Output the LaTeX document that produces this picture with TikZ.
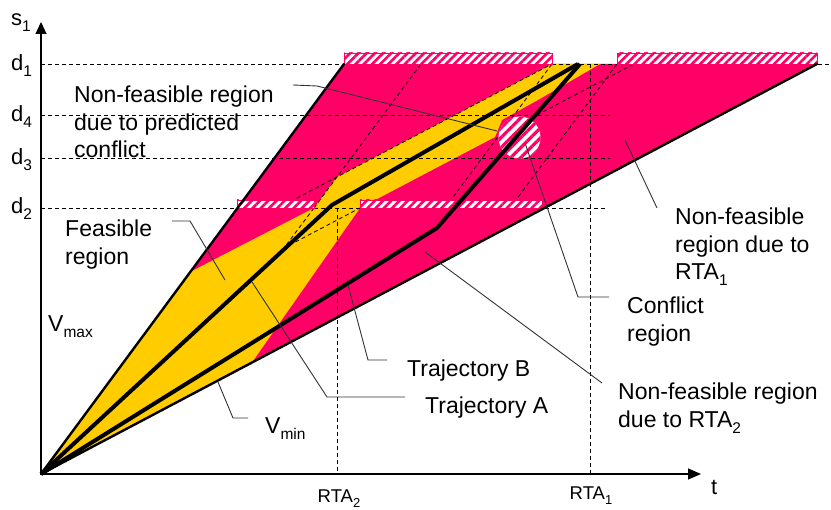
\documentclass[tikz,border=0pt]{standalone}
\usepackage{fontspec}
\setmainfont{Liberation Sans}
\usetikzlibrary{arrows.meta,patterns.meta}
\definecolor{pk}{RGB}{255,0,102}
\definecolor{yl}{RGB}{255,204,0}
\newcommand\lsub[1]{\raisebox{-6pt}{\fontsize{15.5}{15.5}\selectfont #1}}
\newcommand\ssub[1]{\raisebox{-5pt}{\fontsize{13}{13}\selectfont #1}}
\begin{document}
\begin{tikzpicture}[x=1pt,y=-1pt,
  txt/.style={font=\fontsize{23}{27.5}\selectfont, inner sep=0pt, align=left, anchor=north west},
  axl/.style={font=\fontsize{22}{22}\selectfont, inner sep=0pt, anchor=base west},
  rtal/.style={font=\fontsize{18.5}{18.5}\selectfont, inner sep=0pt, anchor=base},
  leader/.style={draw=black!80, line width=0.9pt},
  dsh/.style={draw=black, line width=0.8pt, dash pattern=on 4pt off 3pt},
  bound/.style={draw=black, line width=2.4pt, line cap=round},
  traj/.style={draw=black, line width=4pt, line join=round},
  hatchw/.style={fill=white},
  hatchp/.style={pattern={Lines[angle=45,distance=5.8pt,line width=2.6pt]}, pattern color=pk},
  hatchc/.style={pattern={Lines[angle=45,distance=7pt,line width=3.2pt]}, pattern color=pk},
]
\useasboundingbox (0,0) rectangle (831,510);
% key points
\coordinate (O) at (41,474);
\coordinate (A) at (344,64);
\coordinate (B) at (817,64);
\coordinate (P1) at (314,208);
\coordinate (P2) at (360,208);
\coordinate (W1) at (552,64);
\coordinate (W2) at (617,64);
\coordinate (C) at (519.5,137.5);
% regions
\fill[pk] (O) -- (A) -- (B) -- cycle;
\fill[yl] (O) -- (190,272) -- (P1) -- (337,177) -- (W1) -- (600,64) -- (538,100)
  -- (502,120) -- (495,137) -- (P2) -- (253,361) -- cycle;
% dashed grid
\draw[dsh] (41,64) -- (830,64);
\draw[dsh] (41,115) -- (610,115);
\draw[dsh] (41,158) -- (610,158);
\draw[dsh] (41,208) -- (607,208);
\draw[dsh] (337,208) -- (337,474);
\draw[dsh] (590,64) -- (590,474);
% construction lines
\draw[dsh] (P1) -- (421,64);
\draw[dsh] (P1) -- (284,248) -- (P2);
\draw[dsh] (278,208) -- (W1);
\draw[dsh] (445,208) -- (W1);
\draw[dsh] (510,208) -- (W2);
\draw[dsh] (537,115) -- (634,64);
% conflict region
\fill[hatchw] (C) circle (21);
\fill[hatchc] (C) circle (21);
% hatched bars
\foreach \r in {{(344,53) rectangle (552,64)},{(617,53) rectangle (817,64)},
                {(237,200) rectangle (314,208)},{(360,200) rectangle (542,208)}}{
  \fill[hatchw] \r;
  \fill[hatchp] \r;
  \draw[pk, line width=0.8pt] \r;
}
% boundary lines
\draw[bound] (O) -- (A);
\draw[bound] (O) -- (B);
% trajectories
\draw[traj] (O) -- (332,205) -- (578,64);
\draw[traj] (O) -- (437,228) -- (580,64);
% axes
\draw[line width=1.2pt, -{Triangle[length=12pt,width=11pt]}] (O) -- (41,22);
\draw[line width=1.2pt, -{Triangle[length=13pt,width=11pt]}] (O) -- (701,474);
% axis labels
\node[axl] (s1) at (11,26) {s\lsub{1}};
\node[axl] (dd1) at (11,71) {d\lsub{1}};
\node[axl] (dd4) at (11,122) {d\lsub{4}};
\node[axl] (dd3) at (11,165) {d\lsub{3}};
\node[axl] (dd2) at (11,214) {d\lsub{2}};
\node[axl] (tt) at (711,495) {t};
\node[rtal] (rta2) at (339,503) {RTA\ssub{2}};
\node[rtal] (rta1) at (591,500) {RTA\ssub{1}};
% labels
\node[txt] (npc) at (74,86) {Non-feasible region\\due to predicted\\conflict};
\node[txt] (fea) at (65,220) {Feasible\\region};
\node[txt] (vmin) at (265,417) {V\lsub{min}};
\node[txt] (vmax) at (48,315) {V\lsub{max}};
\node[txt] (trb) at (407,360) {Trajectory B};
\node[txt] (tra) at (425,397) {Trajectory A};
\node[txt] (nr2) at (618,383) {Non-feasible region\\due to RTA\lsub{2}};
\node[txt] (cr) at (627,297) {Conflict\\region};
\node[txt] (nr1) at (675,208) {Non-feasible\\region due to\\RTA\lsub{1}};
% leaders
\draw[leader] (293,85) -- (317,86) -- (497,131);
\draw[leader] (172,221) -- (190,221) -- (225,280);
\draw[leader] (248,418) -- (233,418) -- (218,382);
\draw[leader] (405,397) -- (327,397) -- (252,282);
\draw[leader] (387,360) -- (368,360) -- (348,285);
\draw[leader] (602,383) -- (425,252);
\draw[leader] (609,297) -- (578,297) -- (525,143);
\draw[leader] (657,208) -- (625,140);
\end{tikzpicture}
\end{document}
